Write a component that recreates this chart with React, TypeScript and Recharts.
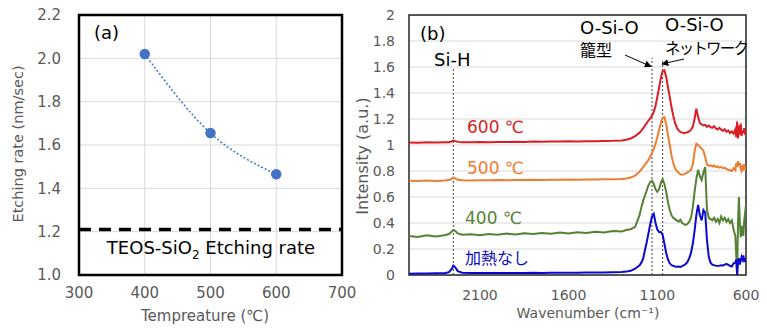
import React from 'react';
import {
  LineChart,
  Line,
  XAxis,
  YAxis,
  CartesianGrid,
  ReferenceLine,
  ReferenceArea,
  Customized,
} from 'recharts';

const FONT = '"DejaVu Sans", "Noto Sans CJK JP", sans-serif';
const JP = '"Noto Sans CJK JP", "DejaVu Sans", sans-serif';

// ---------- Panel (a) ----------
const temperatures = [400, 500, 600];
const etchRates = [2.02, 1.655, 1.465];
const teosRate = 1.21;
const tempTicks = [300, 400, 500, 600, 700];
const rateTicks = [1.0, 1.2, 1.4, 1.6, 1.8, 2.0, 2.2];

// ---------- Panel (b) ----------
const wavenumbers = [
  2500, 2450, 2400, 2350, 2300, 2275, 2260, 2250, 2240, 2225,
  2200, 2150, 2100, 2050, 2000, 1950, 1900, 1850, 1800, 1750,
  1700, 1650, 1600, 1550, 1500, 1450, 1400, 1350, 1300, 1275,
  1250, 1225, 1200, 1190, 1180, 1170, 1160, 1150, 1140, 1130,
  1120, 1110, 1100, 1090, 1080, 1070, 1060, 1050, 1040, 1030,
  1020, 1010, 1000, 990, 980, 970, 960, 950, 940, 930,
  920, 910, 900, 890, 880, 870, 860, 850, 840, 830,
  820, 810, 800, 790, 780, 770, 760, 750, 740, 730,
  720, 710, 700, 690, 680, 670, 660, 655, 650, 645,
  640, 635, 630, 625, 620, 615, 610, 605, 600,
];
const int600 = [
  1.020, 1.018, 1.021, 1.019, 1.022, 1.022, 1.027, 1.034, 1.030, 1.024,
  1.022, 1.021, 1.023, 1.022, 1.024, 1.023, 1.025, 1.024, 1.026, 1.025,
  1.027, 1.026, 1.028, 1.027, 1.029, 1.029, 1.031, 1.032, 1.035, 1.040,
  1.050, 1.068, 1.095, 1.110, 1.128, 1.148, 1.168, 1.188, 1.205, 1.225,
  1.255, 1.300, 1.370, 1.440, 1.515, 1.570, 1.575, 1.525, 1.445, 1.370,
  1.290, 1.225, 1.170, 1.135, 1.112, 1.100, 1.095, 1.092, 1.095, 1.098,
  1.105, 1.118, 1.140, 1.200, 1.280, 1.215, 1.170, 1.158, 1.150, 1.155,
  1.140, 1.150, 1.138, 1.132, 1.145, 1.128, 1.120, 1.132, 1.118, 1.110,
  1.122, 1.102, 1.112, 1.092, 1.104, 1.088, 1.120, 1.060, 1.180, 1.050,
  1.150, 1.080, 1.165, 1.070, 1.110, 1.090, 1.130, 1.080, 1.100,
];
const int500 = [
  0.725, 0.723, 0.726, 0.724, 0.727, 0.730, 0.740, 0.750, 0.744, 0.732,
  0.728, 0.727, 0.729, 0.728, 0.730, 0.729, 0.731, 0.730, 0.732, 0.731,
  0.733, 0.732, 0.734, 0.733, 0.735, 0.735, 0.736, 0.737, 0.738, 0.742,
  0.750, 0.765, 0.795, 0.812, 0.830, 0.848, 0.866, 0.885, 0.910, 0.940,
  0.970, 1.010, 1.060, 1.115, 1.170, 1.210, 1.215, 1.160, 1.075, 1.000,
  0.920, 0.860, 0.820, 0.800, 0.785, 0.775, 0.772, 0.776, 0.782, 0.790,
  0.798, 0.810, 0.850, 0.950, 1.010, 1.000, 0.985, 0.970, 0.955, 0.905,
  0.850, 0.838, 0.845, 0.835, 0.842, 0.830, 0.836, 0.826, 0.832, 0.820,
  0.826, 0.815, 0.810, 0.806, 0.800, 0.822, 0.808, 0.860, 0.830, 0.875,
  0.840, 0.862, 0.820, 0.800, 0.832, 0.818, 0.852, 0.810, 0.830,
];
const int400 = [
  0.300, 0.293, 0.305, 0.297, 0.306, 0.315, 0.333, 0.346, 0.340, 0.320,
  0.310, 0.314, 0.306, 0.316, 0.309, 0.319, 0.311, 0.321, 0.315, 0.323,
  0.317, 0.326, 0.320, 0.329, 0.323, 0.332, 0.327, 0.339, 0.335, 0.346,
  0.352, 0.370, 0.460, 0.520, 0.570, 0.610, 0.650, 0.690, 0.715, 0.725,
  0.700, 0.660, 0.640, 0.660, 0.710, 0.735, 0.700, 0.640, 0.560, 0.500,
  0.460, 0.440, 0.430, 0.420, 0.410, 0.425, 0.400, 0.392, 0.385, 0.392,
  0.410, 0.440, 0.520, 0.640, 0.740, 0.810, 0.760, 0.730, 0.790, 0.830,
  0.500, 0.440, 0.430, 0.420, 0.440, 0.410, 0.430, 0.400, 0.450, 0.420,
  0.440, 0.410, 0.430, 0.400, 0.420, 0.350, 0.300, 0.150, 0.010, 0.400,
  0.600, 0.420, 0.290, 0.330, 0.380, 0.300, 0.420, 0.480, 0.540,
];
const intNone = [
  0.010, 0.012, 0.011, 0.013, 0.014, 0.022, 0.045, 0.072, 0.060, 0.030,
  0.018, 0.015, 0.016, 0.015, 0.016, 0.015, 0.016, 0.016, 0.017, 0.016,
  0.017, 0.017, 0.018, 0.018, 0.019, 0.019, 0.020, 0.021, 0.023, 0.026,
  0.032, 0.048, 0.075, 0.095, 0.125, 0.190, 0.250, 0.320, 0.390, 0.450,
  0.470, 0.400, 0.350, 0.330, 0.330, 0.310, 0.240, 0.170, 0.120, 0.090,
  0.075, 0.070, 0.065, 0.063, 0.066, 0.062, 0.068, 0.075, 0.085, 0.100,
  0.130, 0.170, 0.240, 0.340, 0.460, 0.540, 0.460, 0.420, 0.500, 0.480,
  0.270, 0.140, 0.095, 0.080, 0.075, 0.072, 0.070, 0.072, 0.075, 0.073,
  0.080, 0.085, 0.078, 0.070, 0.065, 0.090, 0.095, 0.120, 0.000, 0.100,
  0.130, 0.080, 0.110, 0.140, 0.120, 0.150, 0.110, 0.120, 0.100,
];
const waveTicks = [2100, 1600, 1100, 600];
const intensityTicks = [0, 0.2, 0.4, 0.6, 0.8, 1, 1.2, 1.4, 1.6, 1.8, 2];
const siHPeak = 2250;
const cagePeak = 1130;
const networkPeak = 1070;

const dataA = temperatures.map((t, i) => ({ t, rate: etchRates[i] }));
const dataB = wavenumbers.map((w, i) => ({
  w,
  r600: int600[i],
  r500: int500[i],
  r400: int400[i],
  none: intNone[i],
}));

const C600 = '#DC1E24';
const C500 = '#ED7D31';
const C400 = '#548235';
const CNONE = '#0A0ACF';
const AX = '#595959';

const AnnotA = () => (
  <g fontFamily={FONT}>
    <text x={94} y={39} fontSize={18} fill="#000">(a)</text>
    <text x={211} y={254} fontSize={18} fill="#000" textAnchor="middle">
      TEOS-SiO<tspan dy={5} fontSize={12}>2</tspan>
      <tspan dy={-5}> Etching rate</tspan>
    </text>
    <text
      transform="translate(23,144) rotate(-90)"
      textAnchor="middle"
      fontSize={14.5}
      fill={AX}
    >
      Etching rate (nm/sec)
    </text>
    <text x={205} y={321} textAnchor="middle" fontSize={15} fill={AX}>
      Tempreature (℃)
    </text>
  </g>
);

const AnnotB = () => (
  <g fontFamily={FONT}>
    <defs>
      <marker id="arrHead" viewBox="0 0 10 10" refX="9" refY="5" markerWidth="7" markerHeight="7" orient="auto-start-reverse">
        <path d="M0,0 L10,5 L0,10 z" fill="#000" />
      </marker>
    </defs>
    <text
      transform="translate(8,156) rotate(-90)"
      textAnchor="middle"
      fontSize={16}
      fill={AX}
    >
      Intensity (a.u.)
    </text>
    <text x={228} y={318} textAnchor="middle" fontSize={14} fill={AX}>
      Wavenumber (cm⁻¹)
    </text>
    <text x={60} y={40} fontSize={18} fill="#000">(b)</text>
    <text x={74} y={66} fontSize={18} fill="#000">Si-H</text>
    <text x={220} y={34} fontSize={18} fill="#000">O-Si-O</text>
    <text x={220} y={56} fontSize={16} fill="#000" fontFamily={JP}>籠型</text>
    <text x={305} y={31} fontSize={18} fill="#000">O-Si-O</text>
    <text x={305} y={54} fontSize={15.5} fill="#000" fontFamily={JP} letterSpacing={-1.8}>ネットワーク</text>
    <line x1={265} y1={55} x2={291} y2={66.5} stroke="#000" strokeWidth={1} markerEnd="url(#arrHead)" />
    <line x1={324} y1={59} x2={302} y2={64} stroke="#000" strokeWidth={1} markerEnd="url(#arrHead)" />
    <text x={107} y={133} fontSize={17} fill={C600}>600 ℃</text>
    <text x={107} y={174} fontSize={17} fill={C500}>500 ℃</text>
    <text x={105} y={224} fontSize={17} fill={C400}>400 ℃</text>
    <text x={105} y={264} fontSize={16} fill={CNONE} fontFamily={JP}>加熱なし</text>
  </g>
);

export default function App() {
  return (
    <div style={{ position: 'absolute', left: 0, top: 0, width: 767, height: 333, background: '#fff' }}>
      <style>{`svg{overflow:visible}`}</style>
      <div style={{ position: 'absolute', left: 0, top: 0 }}>
        <LineChart width={360} height={333} data={dataA} margin={{ top: 15, right: 18, bottom: 0, left: 0 }}>
          <CartesianGrid stroke="#D9D9D9" strokeWidth={1} />
          <XAxis
            dataKey="t"
            type="number"
            domain={[300, 700]}
            ticks={tempTicks}
            height={58}
            axisLine={false}
            tickLine={false}
            tickSize={0}
            tickMargin={12}
            tick={{ fill: AX, fontSize: 15, fontFamily: FONT }}
          />
          <YAxis
            type="number"
            domain={[1.0, 2.2]}
            ticks={rateTicks}
            width={79}
            axisLine={false}
            tickLine={false}
            tickSize={0}
            tickMargin={18}
            tickFormatter={(v: number) => v.toFixed(1)}
            tick={{ fill: AX, fontSize: 15, fontFamily: FONT }}
          />
          <ReferenceLine y={teosRate} stroke="#000" strokeWidth={3.5} strokeDasharray="12 8" />
          <ReferenceArea x1={300} x2={700} y1={1.0} y2={2.2} fill="none" stroke="#000" strokeWidth={2.5} />
          <Line
            dataKey="rate"
            type="natural"
            stroke="#4472C4"
            strokeWidth={1.5}
            strokeDasharray="2 2"
            dot={{ r: 4.5, fill: '#4472C4', stroke: '#4472C4', strokeDasharray: '0' }}
            isAnimationActive={false}
          />
          <Customized component={AnnotA} />
        </LineChart>
      </div>
      <div style={{ position: 'absolute', left: 360, top: 0 }}>
        <LineChart width={407} height={333} data={dataB} margin={{ top: 15, right: 21, bottom: 0, left: 0 }}>
          <CartesianGrid stroke="#D9D9D9" strokeWidth={1} vertical={false} />
          <XAxis
            dataKey="w"
            type="number"
            domain={[600, 2500]}
            reversed
            ticks={waveTicks}
            height={58}
            axisLine={false}
            tickLine={false}
            tickSize={0}
            tickMargin={15}
            tick={{ fill: AX, fontSize: 14, fontFamily: FONT }}
            allowDataOverflow
          />
          <YAxis
            type="number"
            domain={[0, 2]}
            ticks={intensityTicks}
            width={49}
            axisLine={false}
            tickLine={false}
            tickSize={0}
            tickMargin={14}
            tick={{ fill: AX, fontSize: 14, fontFamily: FONT }}
          />
          <ReferenceLine segment={[{ x: siHPeak, y: 0 }, { x: siHPeak, y: 1.6 }]} stroke="#404040" strokeWidth={1} strokeDasharray="2 2" />
          <ReferenceLine segment={[{ x: cagePeak, y: 0 }, { x: cagePeak, y: 1.67 }]} stroke="#404040" strokeWidth={1} strokeDasharray="2 2" />
          <ReferenceLine segment={[{ x: networkPeak, y: 0 }, { x: networkPeak, y: 1.65 }]} stroke="#404040" strokeWidth={1} strokeDasharray="2 2" />
          <Line dataKey="r600" type="linear" stroke={C600} strokeWidth={2} dot={false} isAnimationActive={false} />
          <Line dataKey="r500" type="linear" stroke={C500} strokeWidth={2} dot={false} isAnimationActive={false} />
          <Line dataKey="r400" type="linear" stroke={C400} strokeWidth={2} dot={false} isAnimationActive={false} />
          <Line dataKey="none" type="linear" stroke={CNONE} strokeWidth={2} dot={false} isAnimationActive={false} />
          <ReferenceArea x1={600} x2={2500} y1={0} y2={2} fill="none" stroke="#262626" strokeWidth={1.5} />
          <Customized component={AnnotB} />
        </LineChart>
      </div>
    </div>
  );
}
